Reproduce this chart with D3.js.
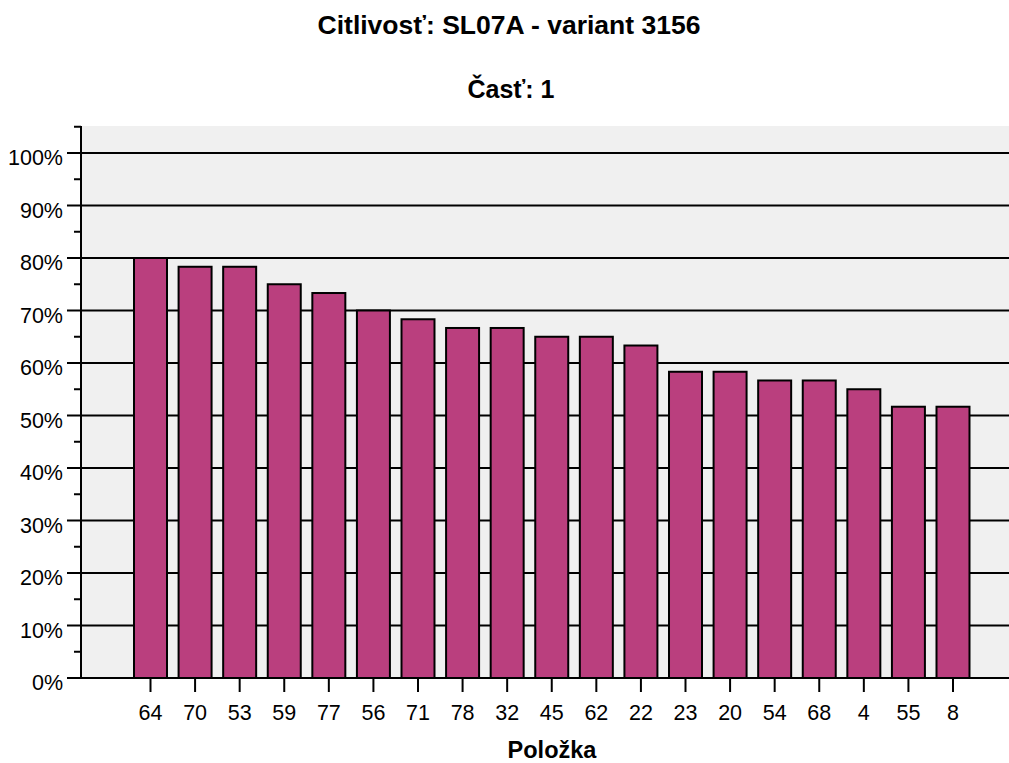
<!DOCTYPE html>
<html><head><meta charset="utf-8">
<script src="https://cdn.jsdelivr.net/npm/d3@7"></script>
<style>body{margin:0;background:#fff}svg{display:block;font-family:"Liberation Sans",Arial,sans-serif}</style>
</head><body><svg id="c" width="1009" height="763"></svg>
<script>
const categories = ["64","70","53","59","77","56","71","78","32","45","62","22","23","20","54","68","4","55","8"];
const values = [80,78.33,78.33,75,73.33,70,68.33,66.67,66.67,65,65,63.33,58.33,58.33,56.67,56.67,55,51.67,51.67];
const yTicks = [0,10,20,30,40,50,60,70,80,90,100];
const title1 = "Citlivosť: SL07A - variant 3156";
const title2 = "Časť: 1";
const xTitle = "Položka";

(function(){
const svg = d3.select("#c");
const pLeft = 81, pRight = 1009, pTop = 126, pBottom = 678;
const y = d3.scaleLinear().domain([0,100]).range([pBottom,153]);
const step = (953 - 150.5) / 18;
const x = d3.scaleBand().domain(categories)
  .range([150.5 - step/2, 953 + step/2]).paddingInner(0.26).paddingOuter(0.13);

svg.append("rect").attr("x",pLeft).attr("y",pTop).attr("width",pRight-pLeft).attr("height",pBottom-pTop).attr("fill","#f0f0f0");

svg.append("g").selectAll("line").data(yTicks).join("line")
  .attr("x1",67).attr("x2",pRight).attr("y1",d=>y(d)).attr("y2",d=>y(d))
  .attr("stroke","#000").attr("stroke-width",2);
svg.append("g").selectAll("line").data(yTicks.map(d=>d+5)).join("line")
  .attr("x1",74).attr("x2",pLeft).attr("y1",d=>y(d)).attr("y2",d=>y(d))
  .attr("stroke","#000").attr("stroke-width",2);

svg.append("line").attr("x1",pLeft).attr("x2",pLeft).attr("y1",pTop).attr("y2",pBottom+1).attr("stroke","#000").attr("stroke-width",2);

svg.append("g").selectAll("text").data(yTicks).join("text")
  .attr("x",63).attr("y",d=>y(d)+12).attr("text-anchor","end").attr("font-size",21.5).attr("fill","#000")
  .text(d=>d+"%");

svg.append("g").selectAll("rect").data(values).join("rect")
  .attr("x",(d,i)=>x(categories[i])).attr("width",x.bandwidth())
  .attr("y",d=>y(d)).attr("height",d=>pBottom-y(d))
  .attr("fill","#ba3f7e").attr("stroke","#000").attr("stroke-width",2);

svg.append("line").attr("x1",67).attr("x2",pRight).attr("y1",pBottom).attr("y2",pBottom).attr("stroke","#000").attr("stroke-width",2);

const xg = svg.append("g").selectAll("g").data(categories).join("g")
  .attr("transform",d=>`translate(${x(d)+x.bandwidth()/2},0)`);
xg.append("line").attr("y1",pBottom).attr("y2",pBottom+14).attr("stroke","#000").attr("stroke-width",2);
xg.append("text").attr("y",720).attr("text-anchor","middle").attr("font-size",21.5).text(d=>d);

svg.append("text").attr("x",509).attr("y",34).attr("text-anchor","middle").attr("font-size",26.5).attr("font-weight","bold").text(title1);
svg.append("text").attr("x",511).attr("y",98).attr("text-anchor","middle").attr("font-size",25).attr("font-weight","bold").text(title2);
svg.append("text").attr("x",552).attr("y",758).attr("text-anchor","middle").attr("font-size",23.5).attr("font-weight","bold").text(xTitle);
})();
</script></body></html>
